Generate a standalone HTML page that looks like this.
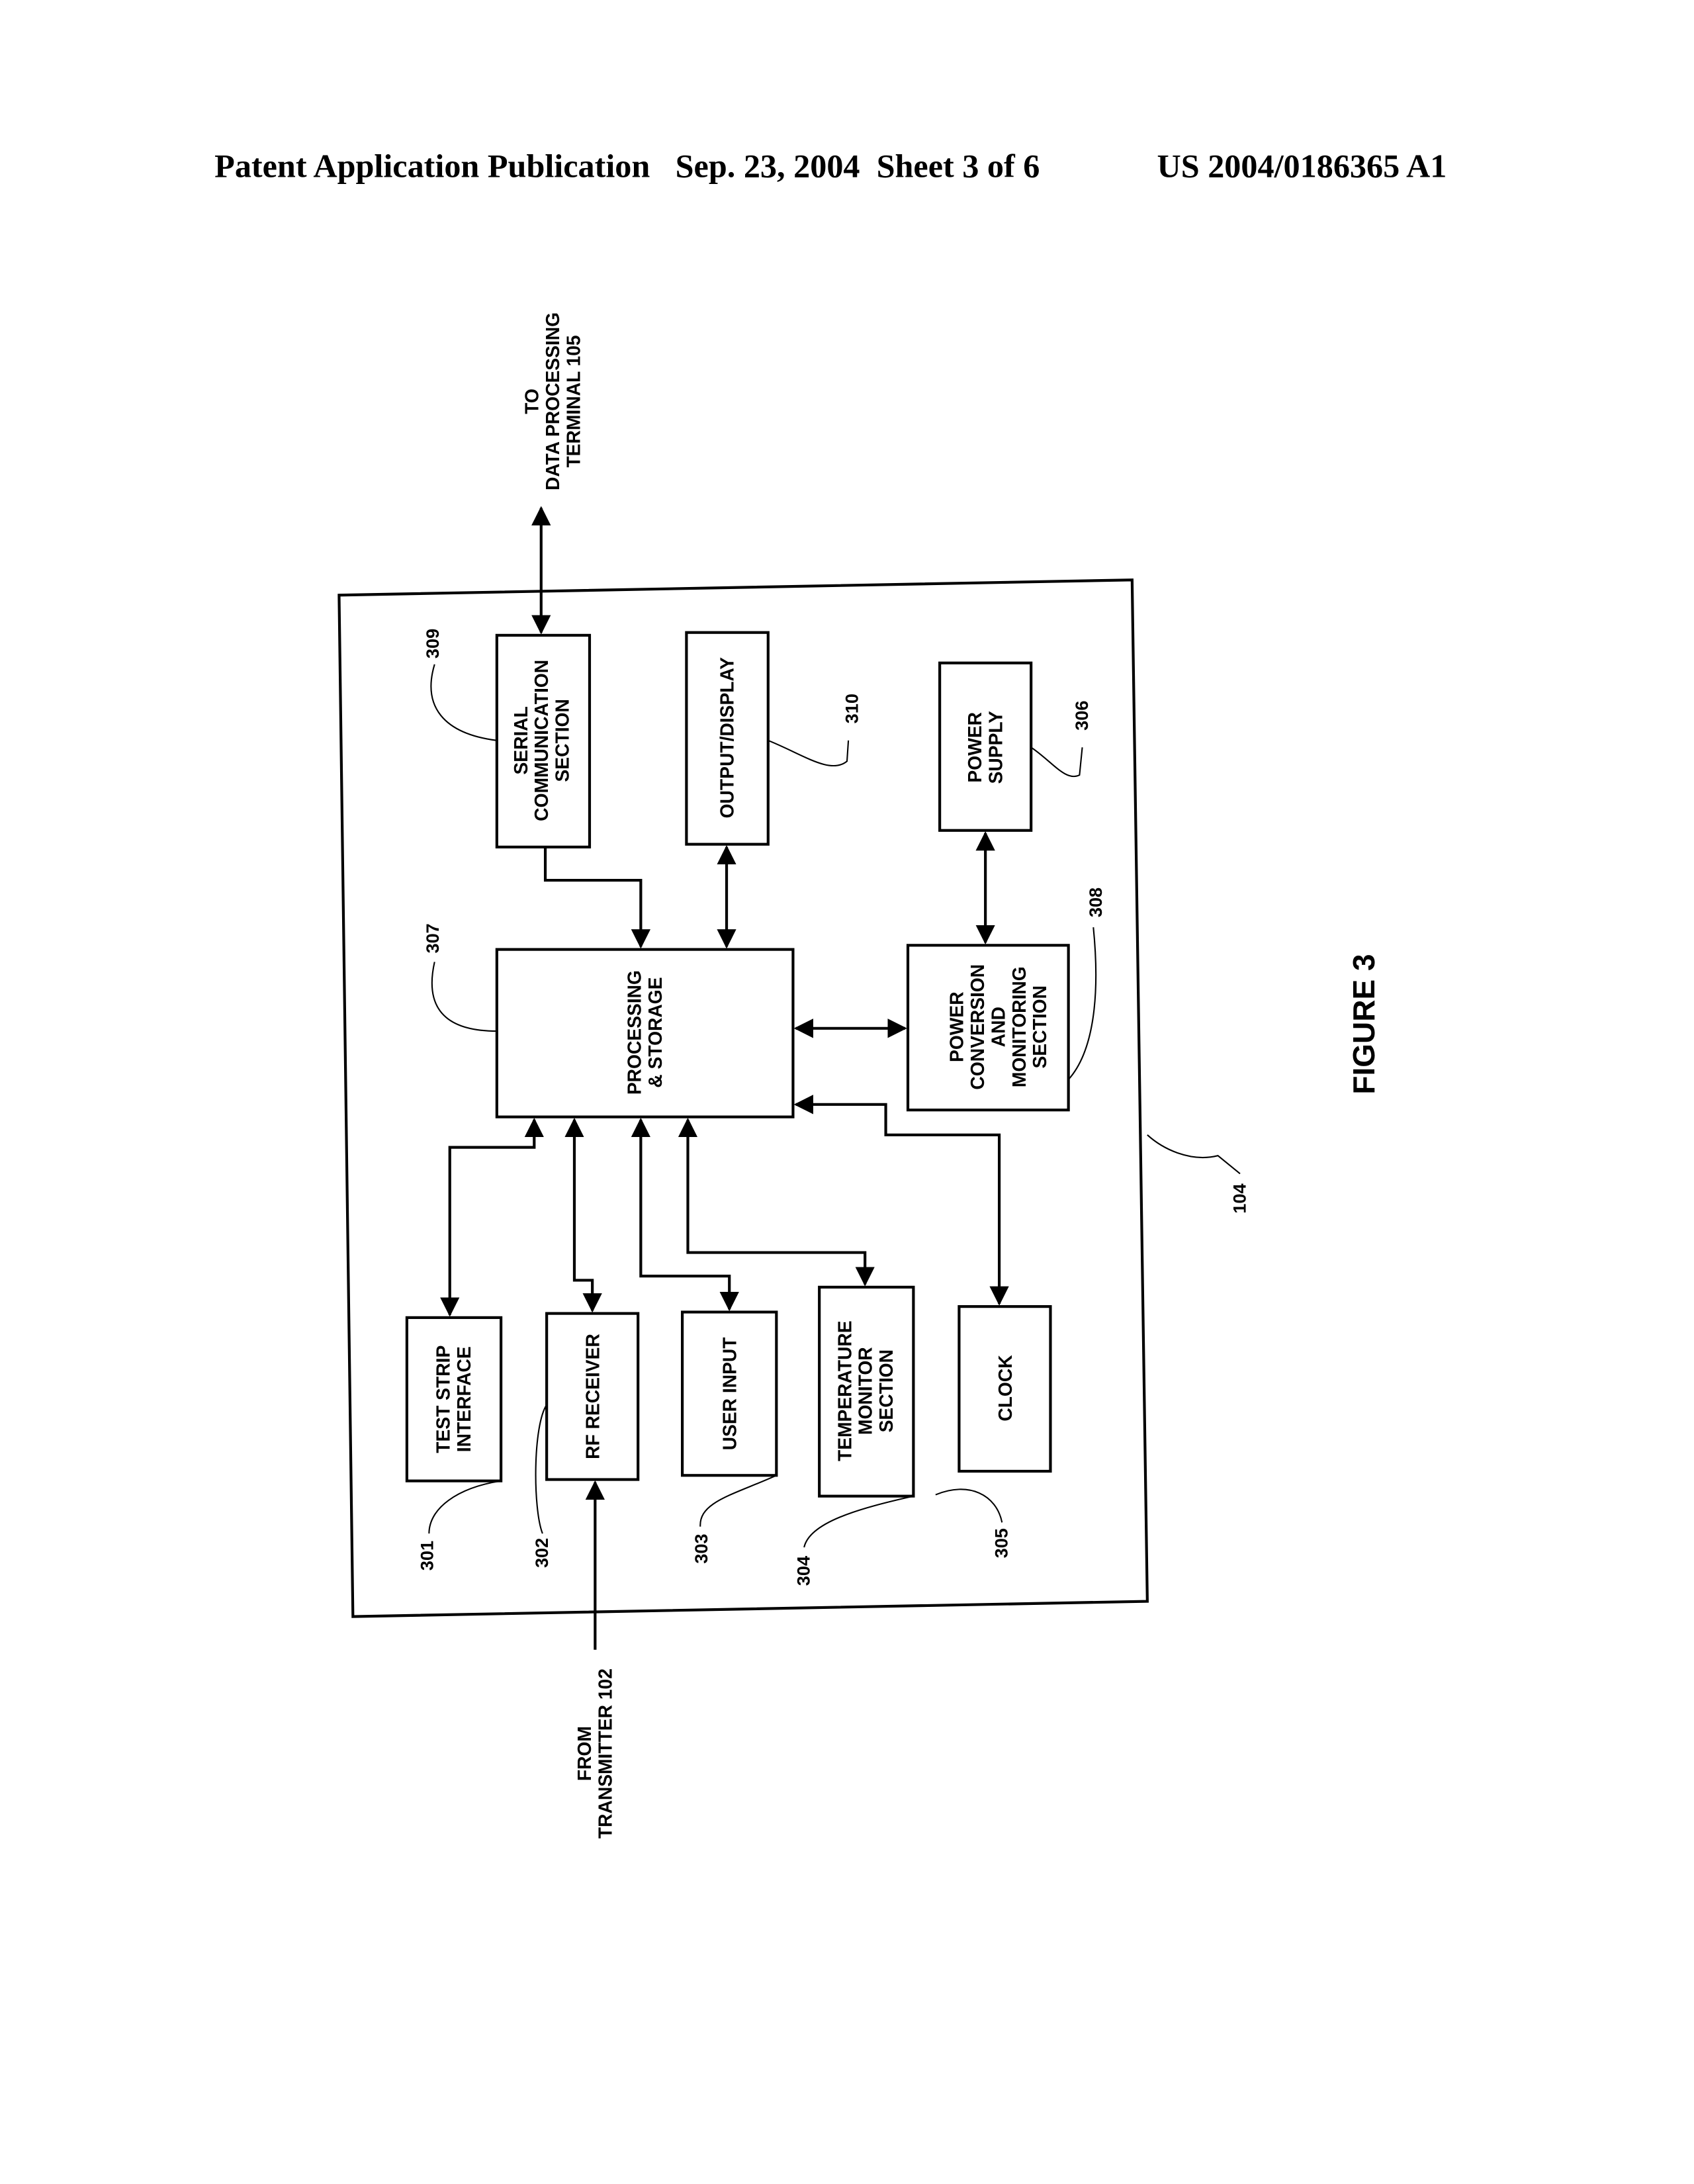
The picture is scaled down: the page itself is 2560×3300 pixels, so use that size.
<!DOCTYPE html>
<html><head><meta charset="utf-8"><style>
html,body{margin:0;padding:0;background:#fff;}
svg{display:block;}
text{font-family:"Liberation Sans",Arial,sans-serif;font-weight:bold;fill:#000;}
.h{font-family:"Liberation Serif","Times New Roman",serif;font-size:24px;}
.b{font-size:13.5px;}
.n{font-size:13px;font-weight:normal;}
</style></head><body>
<svg width="2560" height="3300" viewBox="0 0 1224 1578" preserveAspectRatio="none" xmlns="http://www.w3.org/2000/svg">
<defs>
<marker id="a" viewBox="0 0 10 10" refX="9" refY="5" markerWidth="7" markerHeight="7" orient="auto-start-reverse"><path d="M0,0 L10,5 L0,10 z" fill="#000"/></marker>
</defs>
<text class="h" x="155" y="128">Patent Application Publication</text>
<text class="h" x="488" y="128" xml:space="preserve">Sep. 23, 2004  Sheet 3 of 6</text>
<text class="h" x="836" y="128">US 2004/0186365 A1</text>

<g fill="none" stroke="#000" stroke-width="2">
<polygon points="245,430 818,419 829,1157 255,1168"/>
<rect x="359" y="459" width="67" height="153"/>
<rect x="496" y="457" width="59" height="153"/>
<rect x="679" y="479" width="66" height="121"/>
<rect x="359" y="686" width="214" height="121"/>
<rect x="656" y="683" width="116" height="119"/>
<rect x="294" y="952" width="68" height="118"/>
<rect x="395" y="949" width="66" height="120"/>
<rect x="493" y="948" width="68" height="118"/>
<rect x="592" y="930" width="68" height="151"/>
<rect x="693" y="944" width="66" height="119"/>
</g>
<g fill="none" stroke="#000" stroke-width="2">
<line x1="391" y1="457" x2="391" y2="367" marker-start="url(#a)" marker-end="url(#a)"/>
<polyline points="394,612 394,636 463,636 463,684" marker-end="url(#a)"/>
<line x1="525" y1="612" x2="525" y2="684" marker-start="url(#a)" marker-end="url(#a)"/>
<line x1="712" y1="602" x2="712" y2="681" marker-start="url(#a)" marker-end="url(#a)"/>
<line x1="575" y1="743" x2="654" y2="743" marker-start="url(#a)" marker-end="url(#a)"/>
<polyline points="386,809 386,829 325,829 325,950" marker-start="url(#a)" marker-end="url(#a)"/>
<polyline points="415,809 415,925 428,925 428,947" marker-start="url(#a)" marker-end="url(#a)"/>
<polyline points="463,809 463,922 527,922 527,946" marker-start="url(#a)" marker-end="url(#a)"/>
<polyline points="497,809 497,905 625,905 625,928" marker-start="url(#a)" marker-end="url(#a)"/>
<polyline points="575,798 640,798 640,820 722,820 722,942" marker-start="url(#a)" marker-end="url(#a)"/>
<line x1="430" y1="1192" x2="430" y2="1071" marker-end="url(#a)"/>
</g>
<g fill="none" stroke="#000" stroke-width="1">
<path d="M314,480 C305,510 320,530 359,535"/>
<path d="M555,535 C580,545 600,560 612,550 L613,535"/>
<path d="M745,540 C760,550 770,565 780,560 L782,540"/>
<path d="M314,695 C305,735 330,745 359,745"/>
<path d="M772,780 C790,760 795,720 790,670"/>
<path d="M310,1108 C310,1090 330,1075 362,1070"/>
<path d="M392,1108 C385,1090 385,1030 395,1015"/>
<path d="M506,1103 C505,1085 530,1080 561,1066"/>
<path d="M581,1118 C585,1100 620,1090 660,1081"/>
<path d="M724,1100 C720,1080 700,1070 676,1080"/>
<path d="M829,820 C840,830 860,840 880,835 L896,848"/>
</g>
<g class="b">
<text transform="translate(392,535) rotate(-90)" text-anchor="middle"><tspan x="0" dy="-11">SERIAL</tspan><tspan x="0" dy="15">COMMUNICATION</tspan><tspan x="0" dy="15">SECTION</tspan></text>
<text transform="translate(525,533) rotate(-90)" text-anchor="middle" dy="5">OUTPUT/DISPLAY</text>
<text transform="translate(712,540) rotate(-90)" text-anchor="middle"><tspan x="0" dy="-3">POWER</tspan><tspan x="0" dy="15">SUPPLY</tspan></text>
<text transform="translate(466,746) rotate(-90)" text-anchor="middle"><tspan x="0" dy="-3">PROCESSING</tspan><tspan x="0" dy="15">&amp; STORAGE</tspan></text>
<text transform="translate(714,742) rotate(-90)" text-anchor="middle"><tspan x="0" dy="-18">POWER</tspan><tspan x="0" dy="15">CONVERSION</tspan><tspan x="0" dy="15">AND</tspan><tspan x="0" dy="15">MONITORING</tspan><tspan x="0" dy="15">SECTION</tspan></text>
<text transform="translate(328,1011) rotate(-90)" text-anchor="middle"><tspan x="0" dy="-3">TEST STRIP</tspan><tspan x="0" dy="15">INTERFACE</tspan></text>
<text transform="translate(428,1009) rotate(-90)" text-anchor="middle" dy="5">RF RECEIVER</text>
<text transform="translate(527,1007) rotate(-90)" text-anchor="middle" dy="5">USER INPUT</text>
<text transform="translate(626,1005) rotate(-90)" text-anchor="middle"><tspan x="0" dy="-11">TEMPERATURE</tspan><tspan x="0" dy="15">MONITOR</tspan><tspan x="0" dy="15">SECTION</tspan></text>
<text transform="translate(726,1003) rotate(-90)" text-anchor="middle" dy="5">CLOCK</text>
<text transform="translate(400,290) rotate(-90)" text-anchor="middle"><tspan x="0" dy="-11">TO</tspan><tspan x="0" dy="15">DATA PROCESSING</tspan><tspan x="0" dy="15">TERMINAL 105</tspan></text>
<text transform="translate(430,1267) rotate(-90)" text-anchor="middle"><tspan x="0" dy="-3">FROM</tspan><tspan x="0" dy="15">TRANSMITTER 102</tspan></text>
</g>
<g class="n">
<text transform="translate(317,465) rotate(-90)" text-anchor="middle">309</text>
<text transform="translate(620,512) rotate(-90)" text-anchor="middle">310</text>
<text transform="translate(786,517) rotate(-90)" text-anchor="middle">306</text>
<text transform="translate(317,678) rotate(-90)" text-anchor="middle">307</text>
<text transform="translate(796,652) rotate(-90)" text-anchor="middle">308</text>
<text transform="translate(313,1124) rotate(-90)" text-anchor="middle">301</text>
<text transform="translate(396,1122) rotate(-90)" text-anchor="middle">302</text>
<text transform="translate(511,1119) rotate(-90)" text-anchor="middle">303</text>
<text transform="translate(585,1135) rotate(-90)" text-anchor="middle">304</text>
<text transform="translate(728,1115) rotate(-90)" text-anchor="middle">305</text>
<text transform="translate(900,866) rotate(-90)" text-anchor="middle">104</text>
</g>
<text transform="translate(993,740) rotate(-90)" text-anchor="middle" style="font-size:22px">FIGURE 3</text>
</svg>
</body></html>
